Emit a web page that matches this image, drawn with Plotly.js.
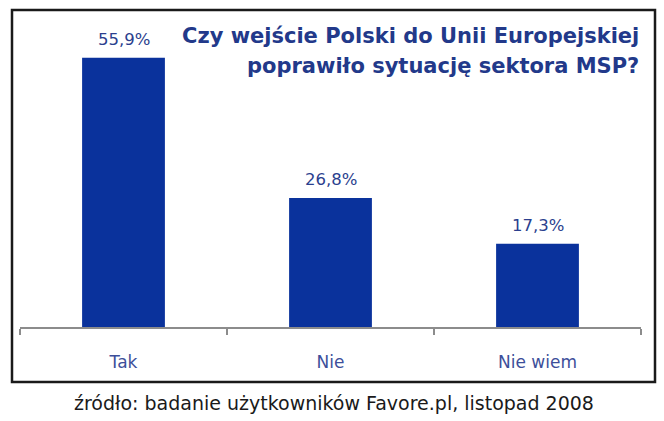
<!DOCTYPE html>
<html>
<head>
<meta charset="utf-8">
<script src="https://cdn.plot.ly/plotly-3.0.1.min.js"></script>
<style>html,body{margin:0;padding:0;background:#fff;}#chart{width:664px;height:421px;}</style>
</head>
<body>
<div id="chart"></div>
<script>
const categories = ["Tak", "Nie", "Nie wiem"];
const values = [55.9, 26.8, 17.3];
const valueLabels = ["55,9%", "26,8%", "17,3%"];
const titleLines = ["Czy wejście Polski do Unii Europejskiej", "poprawiło sytuację sektora MSP?"];
const sourceText = "źródło: badanie użytkowników Favore.pl, listopad 2008";

const W = 664, H = 421;
const M = {l: 20, r: 23, t: 38, b: 94};
const pw = W - M.l - M.r, ph = H - M.t - M.b;
const px = x => (x - M.l) / pw;
const py = y => (H - M.b - y) / ph;

const trace = {
  type: "bar",
  x: categories,
  y: values,
  marker: {color: "#0a329c"},
  cliponaxis: false,
  hoverinfo: "none"
};

const valueAnnotations = categories.map((c, i) => ({
  xref: "x", yref: "y", x: c, y: values[i],
  xanchor: "center", yanchor: "bottom", yshift: 7,
  text: valueLabels[i], showarrow: false,
  font: {family: "DejaVu Sans", size: 16.5, color: "#2b3f8e"}
}));

const layout = {
  width: W, height: H,
  margin: M,
  paper_bgcolor: "#fff",
  plot_bgcolor: "#fff",
  showlegend: false,
  bargap: 0.6,
  xaxis: {
    type: "category",
    range: [-0.5, 2.5],
    showline: true,
    linecolor: "#8c8c8c",
    linewidth: 1.5,
    ticks: "outside",
    tickson: "boundaries",
    ticklen: 6,
    tickcolor: "#8c8c8c",
    tickwidth: 1.5,
    ticklabelstandoff: 19,
    tickfont: {family: "DejaVu Sans", size: 17, color: "#3d4f9a"},
    showgrid: false,
    zeroline: false,
    fixedrange: true
  },
  yaxis: {
    range: [0, 60],
    visible: false,
    showgrid: false,
    zeroline: false,
    fixedrange: true
  },
  shapes: [{
    type: "rect", xref: "paper", yref: "paper",
    x0: px(12), x1: px(655), y0: py(382), y1: py(10),
    line: {color: "#1a1a1a", width: 2.5}, fillcolor: "rgba(0,0,0,0)", layer: "below"
  }],
  annotations: valueAnnotations.concat([
    {xref: "paper", yref: "paper", x: px(641), y: py(36), xanchor: "right", yanchor: "middle",
     text: titleLines[0], showarrow: false,
     font: {family: "DejaVu Sans", size: 21, color: "#22398a", weight: "bold"}},
    {xref: "paper", yref: "paper", x: px(641), y: py(66), xanchor: "right", yanchor: "middle",
     text: titleLines[1], showarrow: false,
     font: {family: "DejaVu Sans", size: 21, color: "#22398a", weight: "bold"}},
    {xref: "paper", yref: "paper", x: px(334), y: py(403), xanchor: "center", yanchor: "middle",
     text: sourceText, showarrow: false,
     font: {family: "DejaVu Sans", size: 19, color: "#1a1a1a"}}
  ])
};

Plotly.newPlot("chart", [trace], layout, {displayModeBar: false, staticPlot: true});
</script>
</body>
</html>
